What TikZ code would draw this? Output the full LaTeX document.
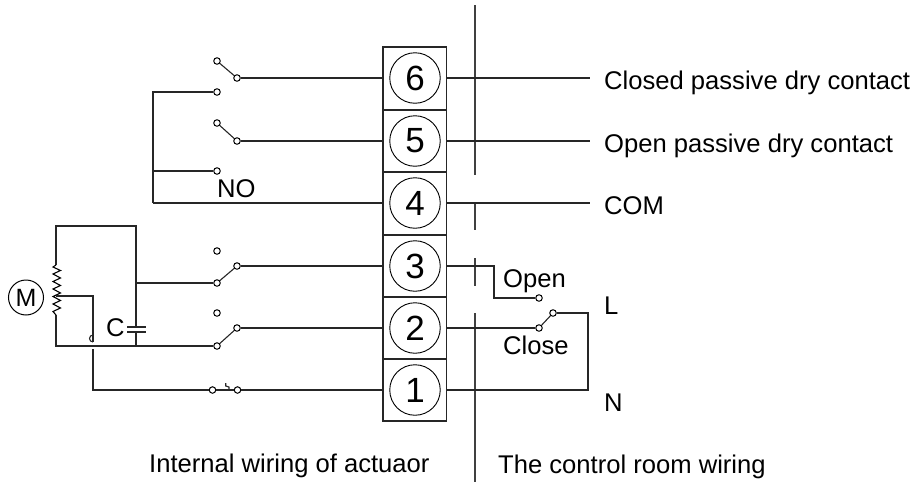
\documentclass[tikz,border=0pt]{standalone}
\usepackage{fontspec}
\setmainfont{Liberation Sans}
\begin{document}
\begin{tikzpicture}[x=1pt,y=-1pt,
  wire/.style={line width=1.1pt,black!85},
  sep/.style={line width=1.2pt,black!75},
  term/.style={circle,draw,line width=0.9pt,minimum size=50.5pt,inner sep=0pt,font=\fontsize{35}{35}\selectfont},
  dot/.style={circle,draw,fill=white,line width=1pt,minimum size=6.5pt,inner sep=0pt},
  lab/.style={font=\fontsize{25.6}{28}\selectfont,inner sep=0pt,anchor=base west},
  zig/.style={line width=1.1pt}]
\useasboundingbox (0,0) rectangle (914,482);
% terminal block
\draw[wire] (383,47) rectangle (446.5,421);
\foreach \y in {110,172,235,297,359} \draw[wire] (383,\y) -- (446.5,\y);
\node[term] (t6) at (415,78) {6};
\node[term] (t5) at (415,141) {5};
\node[term] (t4) at (415,203) {4};
\node[term] (t3) at (415,266) {3};
\node[term] (t2) at (415,328) {2};
\node[term] (t1) at (415,390) {1};
% separator
\draw[sep] (475,5) -- (475,175);
\draw[sep] (475,202) -- (475,230);
\draw[sep] (475,258) -- (475,286);
\draw[sep] (475,313) -- (475,482);
% contacts
\node[dot] (a6) at (217,61) {};
\node[dot] (b6) at (237,78) {};
\node[dot] (c6) at (217,92) {};
\node[dot] (a5) at (217,123) {};
\node[dot] (b5) at (237,141) {};
\node[dot] (c5) at (217,171) {};
\node[dot] (a3) at (217,251) {};
\node[dot] (b3) at (237,266) {};
\node[dot] (c3) at (217,283) {};
\node[dot] (a2) at (217,313) {};
\node[dot] (b2) at (237,328) {};
\node[dot] (c2) at (217,346) {};
\node[dot] (a1) at (212.5,390) {};
\node[dot] (b1) at (237.5,390) {};
\node[dot] (r3) at (539,298) {};
\node[dot] (r2) at (539,328) {};
\node[dot] (r1) at (553,313) {};
% switch arms
\draw[wire] (a6) -- (b6);
\draw[wire] (a5) -- (b5);
\draw[wire] (c3) -- (b3);
\draw[wire] (c2) -- (b2);
\draw[wire] (r2) -- (r1);
\draw[wire] (a1) -- (b1);
\draw[wire] (225.7,383) -- (225.7,386) -- (229,387) -- (229,390);
% wires to block
\draw[wire] (b6) -- (383,78);
\draw[wire] (b5) -- (383,141);
\draw[wire] (b3) -- (383,266);
\draw[wire] (b2) -- (383,328);
\draw[wire] (b1) -- (383,390);
\draw[wire] (153,203) -- (383,203);
\draw[wire] (c6) -- (153,92) -- (153,203);
\draw[wire] (c5) -- (153,171);
% right side
\coordinate (e6) at (590,78);
\coordinate (e5) at (590,141);
\coordinate (e4) at (590,203);
\draw[wire] (446.5,78) -- (e6);
\draw[wire] (446.5,141) -- (e5);
\draw[wire] (446.5,203) -- (e4);
\draw[wire] (446.5,266) -- (494,266) -- (494,298) -- (r3);
\draw[wire] (446.5,328) -- (r2);
\draw[wire] (r1) -- (588,313) -- (588,390) -- (446.5,390);
% motor
\node[circle,draw,line width=1pt,minimum size=35pt,inner sep=0pt,font=\fontsize{25}{25}\selectfont] (m) at (26,297.5) {M};
\draw[wire] (56,265) -- (56,226) -- (136,226) -- (136,327);
\draw[wire] (136,332) -- (136,346);
\draw[wire] (c3) -- (136,283);
\draw[zig] (56,265) -- (53,267) \foreach \i in {0,...,5} { -- (60.5,{270.5+\i*7.5}) -- (53,{274+\i*7.5}) } -- (56,315);
\draw[wire] (56,315) -- (56,346) -- (c2);
\draw[wire] (56,296) -- (93,296) -- (93,342);
\draw[wire] (93,342) arc[start angle=90,end angle=270,radius=3.5];
\draw[wire] (93,349) -- (93,390) -- (a1);
\draw[wire] (127,327) -- (146,327);
\draw[wire] (127,332) -- (146,332);
\node[lab] at (106,336) {C};
% labels
\node[lab] at (217,197) {NO};
\node[lab] at (604,89) {Closed passive dry contact};
\node[lab] at (604,152) {Open passive dry contact};
\node[lab] at (604,214) {COM};
\node[lab] at (503,287) {Open};
\node[lab] at (503,354) {Close};
\node[lab] at (604,314) {L};
\node[lab] at (604,411) {N};
\node[lab] at (149,472) {Internal wiring of actuaor};
\node[lab] at (498,473) {The control room wiring};
\end{tikzpicture}
\end{document}
